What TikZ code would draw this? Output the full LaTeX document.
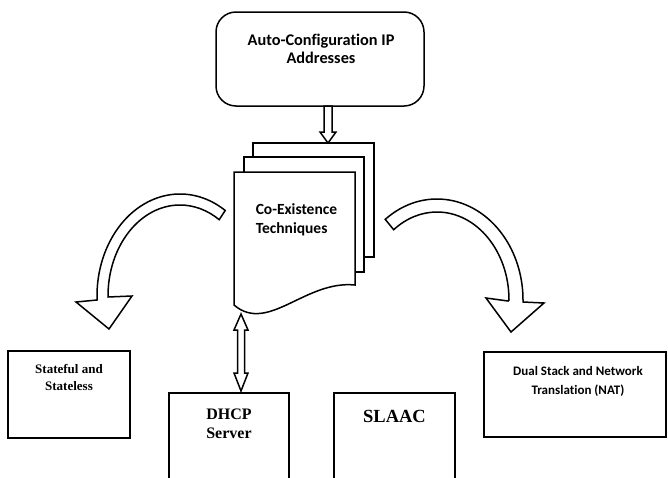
\documentclass[tikz,border=0pt]{standalone}
\usepackage{fontspec}
\newfontfamily\calfont{Carlito}[Ligatures=CommonOff]
\newfontfamily\timesfont{Liberation Serif}
\begin{document}
\begin{tikzpicture}[x=1pt,y=-1pt,line width=1.5pt,line join=miter]
\tikzset{
  box/.style={draw,rectangle,inner sep=0pt},
  hollow/.style={draw,fill=white,line join=miter},
  page/.style={draw,fill=white},
  caltext/.style={inner sep=0pt},
  serif/.style={inner sep=0pt,align=center},
}
\useasboundingbox (0,0) rectangle (668,477);
\clip (0,0) rectangle (668,477);

% top rounded box
\node[box,rounded corners=20pt,minimum width=208pt,minimum height=94pt] (auto) at (320,59) {};
\node[caltext,align=center,font=\calfont\bfseries\fontsize{16.3}{18}\selectfont] (autotxt) at (321,49)
  {Auto-Configuration IP\\Addresses};

% stacked document pages
\draw[page] (253,143) -- (374,143) -- (374,257) -- (253,257) -- cycle;
\draw[page] (244,157) -- (364,157) -- (364,272) -- (244,272) -- cycle;
\draw[page] (234,172) -- (355,172) -- (355,285)
  .. controls (305,280) and (268,334) .. (234,305) -- cycle;
\node[caltext,align=left,anchor=west,font=\calfont\bfseries\fontsize{15.5}{19}\selectfont] (coex) at (255,219.5)
  {Co-Existence\\Techniques};

% hollow arrow from top box down to the documents
\draw[hollow] (324,106) -- (324,132) -- (320,132) -- (328,143) -- (336,132) -- (332,132) -- (332,106) -- cycle;

% target boxes
\node[box,minimum width=122pt,minimum height=87pt] (stateful) at (69,394.5) {};
\node[serif,font=\timesfont\bfseries\fontsize{13}{17}\selectfont] (statefultxt) at (69,377.5) {Stateful and\\Stateless};

\node[box,minimum width=120pt,minimum height=110pt] (dhcp) at (229,448) {};
\node[serif,font=\timesfont\bfseries\fontsize{16}{19}\selectfont] (dhcptxt) at (229,423.5) {DHCP\\Server};

\node[box,minimum width=121pt,minimum height=110pt] (slaac) at (394.5,448) {};
\node[serif,font=\timesfont\bfseries\fontsize{18.5}{20}\selectfont] (slaactxt) at (394.5,416) {SLAAC};

\node[box,minimum width=182pt,minimum height=85pt] (dual) at (575,394.5) {};
\node[caltext,align=center,font=\calfont\bfseries\fontsize{13}{19}\selectfont] (dualtxt) at (578,381.5)
  {Dual Stack and Network\\Translation (NAT)};

% double hollow arrow between documents and DHCP server
\draw[hollow] (241,314) -- (248,330) -- (244.5,330) -- (244.5,373) -- (248,373) -- (241,391)
  -- (234,373) -- (237.5,373) -- (237.5,330) -- (234,330) -- cycle;

% left curved hollow arrow
\draw[hollow] (180,296) ++(57:83pt and 102pt)
  arc[start angle=57,end angle=180,x radius=83pt,y radius=102pt]
  -- (97,300) -- (76,302) -- (109,329) -- (132,296) -- (108,297) -- (108,296)
  arc[start angle=180,end angle=57,x radius=72pt,y radius=91pt] -- cycle;

% right curved hollow arrow
\draw[hollow] (437,300) ++(127:86pt and 101pt)
  arc[start angle=127,end angle=0,x radius=86pt,y radius=101pt]
  -- (523,302) -- (544,303) -- (511,332) -- (486,298) -- (508,301) -- (509,300)
  arc[start angle=0,end angle=127,x radius=72pt,y radius=88pt] -- cycle;
\end{tikzpicture}
\end{document}
